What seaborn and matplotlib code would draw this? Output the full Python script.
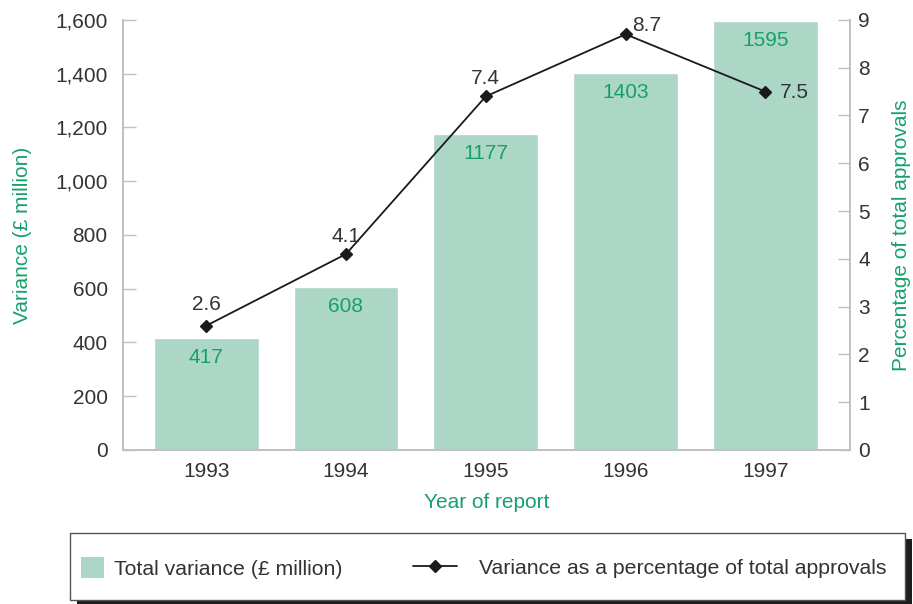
import matplotlib
matplotlib.use("Agg")
import matplotlib.pyplot as plt
import seaborn as sns
import pandas as pd
from matplotlib.patches import Patch, Rectangle
from matplotlib.lines import Line2D
from matplotlib.ticker import FuncFormatter

years = ["1993", "1994", "1995", "1996", "1997"]
variance = [417, 608, 1177, 1403, 1595]
percentage = [2.6, 4.1, 7.4, 8.7, 7.5]
left_ticks = [0, 200, 400, 600, 800, 1000, 1200, 1400, 1600]
right_ticks = [0, 1, 2, 3, 4, 5, 6, 7, 8, 9]

BAR = "#acd7c7"
GREEN = "#17a06c"
TXT = "#333333"
SPINE = "#c0c0c0"
FS = 15
LFS = 15.3

sns.set_theme(style="white")
plt.rcParams["font.family"] = ["Liberation Sans", "DejaVu Sans"]

df = pd.DataFrame({"year": years, "variance": variance, "pct": percentage})

W, H = 913, 604
fig = plt.figure(figsize=(W / 100, H / 100), dpi=100)
ax = fig.add_axes([0.1347, 0.255, 0.931 - 0.1347, 0.967 - 0.255])
sns.barplot(data=df, x="year", y="variance", color=BAR, saturation=1,
            width=0.75, ax=ax)
ax2 = ax.twinx()
sns.pointplot(data=df, x="year", y="pct", color="#1a1a1a", markers="D",
              markersize=6.5, linewidth=1.3, ax=ax2)

ax.set_xlim(-0.595, 4.605)
ax2.set_xlim(-0.595, 4.605)
ax.set_ylim(0, 1600)
ax2.set_ylim(0, 9)
ax.set_yticks(left_ticks)
ax2.set_yticks(right_ticks)
ax.yaxis.set_major_formatter(FuncFormatter(lambda v, p: f"{int(v):,}"))

for a in (ax, ax2):
    for s in a.spines.values():
        s.set_color(SPINE)
        s.set_linewidth(1.2)
    a.spines["top"].set_visible(False)

ax.tick_params(axis="y", direction="in", length=9, width=1, color=SPINE,
               pad=11, labelsize=FS, labelcolor=TXT, left=True)
ax.tick_params(axis="x", length=0, pad=9, labelsize=FS, labelcolor=TXT)
ax2.tick_params(axis="y", direction="in", length=9, width=1, color=SPINE,
                pad=6, labelsize=FS, labelcolor=TXT, right=True)

ax.set_xlabel("Year of report", color=GREEN, fontsize=FS, labelpad=8)
ax.set_ylabel("Variance (£ million)", color=GREEN, fontsize=FS, labelpad=17)
ax2.set_ylabel("Percentage of total approvals", color=GREEN, fontsize=FS,
               labelpad=16)

for i, v in enumerate(variance):
    ax.annotate(str(v), (i, v), xytext=(0, -14), textcoords="offset points",
                ha="center", va="center", color=GREEN, fontsize=FS)

label_offsets = [(0, 15), (0, 13), (0, 13), (15, 6), (21, -1)]
for i, (p, off) in enumerate(zip(percentage, label_offsets)):
    ax2.annotate(f"{p}", (i, p), xytext=off, textcoords="offset points",
                 ha="center", va="center", color=TXT, fontsize=FS)

# legend frame with dark drop shadow
fx0, fx1, fy_top, fy_bot = 69.5, 905, 533, 600
shadow = Rectangle(((fx0 + 7) / W, 1 - (fy_bot + 6) / H),
                   (fx1 - fx0) / W, (fy_bot - fy_top) / H,
                   transform=fig.transFigure, facecolor="#1e1e1e",
                   edgecolor="none", zorder=1)
frame = Rectangle((fx0 / W, 1 - fy_bot / H), (fx1 - fx0) / W,
                  (fy_bot - fy_top) / H, transform=fig.transFigure,
                  facecolor="white", edgecolor="#555555", linewidth=1.0,
                  zorder=2)
fig.patches.extend([shadow, frame])

ycen = 1 - 568 / H
leg1 = fig.legend([Patch(facecolor=BAR, edgecolor="none")],
                  ["Total variance (£ million)"], loc="center left",
                  bbox_to_anchor=(80.7 / W, ycen), frameon=False,
                  fontsize=LFS, handlelength=1.08, handleheight=1.13,
                  handletextpad=0.5, borderpad=0, borderaxespad=0,
                  labelcolor=TXT)
leg2 = fig.legend([Line2D([0], [0], color="#1a1a1a", marker="D",
                          markersize=6.5, linewidth=1.3)],
                  ["Variance as a percentage of total approvals"],
                  loc="center left", bbox_to_anchor=(412.7 / W, ycen),
                  frameon=False, fontsize=LFS, handlelength=2.07,
                  numpoints=1, handletextpad=1.05, borderpad=0,
                  borderaxespad=0, labelcolor=TXT)
for lg in (leg1, leg2):
    lg.set_zorder(3)

fig.savefig("out.png", dpi=100)
